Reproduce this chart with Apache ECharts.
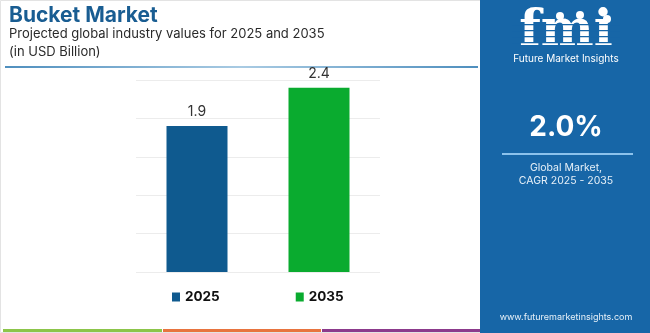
<!DOCTYPE html>
<html>
<head>
<meta charset="utf-8">
<script src="https://cdn.jsdelivr.net/npm/echarts@6/dist/echarts.min.js"></script>
<style>
  html, body { margin: 0; padding: 0; background: #ffffff; }
  #chart { width: 650px; height: 333px; }
</style>
</head>
<body>
<div id="chart"></div>
<script>
// Market size by year, USD billion
const years = ['2025', '2035'];
const values = [1.9, 2.4];
const barColors = ['#0f5a8f', '#0aab2f'];
const cagrText = '2.0%';

const FONT = 'Inter, "Open Sans", sans-serif';
const PANEL = '#1766a7';

const chart = echarts.init(document.getElementById('chart'));

const series = years.map((y, i) => ({
  name: y,
  type: 'bar',
  stack: 'all',
  barWidth: '50%',
  data: years.map((_, j) => (j === i ? values[i] : null)),
  itemStyle: { color: barColors[i] },
  label: {
    show: true,
    position: 'top',
    distance: 7,
    formatter: p => p.value.toFixed(1),
    color: '#333333',
    fontFamily: FONT,
    fontSize: 14
  }
}));

chart.setOption({
  animation: false,
  backgroundColor: '#ffffff',
  grid: { left: 136, right: 270, top: 80, bottom: 61 },
  xAxis: {
    type: 'category',
    data: years,
    axisLine: { show: false },
    axisTick: { show: false },
    axisLabel: { show: false }
  },
  yAxis: {
    type: 'value',
    min: 0,
    max: 2.5,
    interval: 0.5,
    axisLabel: { show: false },
    axisLine: { show: false },
    axisTick: { show: false },
    splitLine: { lineStyle: { color: '#ececec', width: 1 } }
  },
  legend: {
    left: 172,
    top: 290,
    padding: 0,
    itemWidth: 8,
    itemHeight: 9,
    itemGap: 76,
    icon: 'rect',
    textStyle: { fontFamily: FONT, fontSize: 13.5, fontWeight: 'bold', color: '#111111' },
    data: years
  },
  series: series,
  graphic: [
    // outer frame
    { type: 'rect', shape: { x: 0.5, y: 0.5, width: 649, height: 332 }, style: { fill: 'none', stroke: '#e3e3e3', lineWidth: 1 }, silent: true },
    // heading
    { type: 'text', x: 9, y: 16, style: { text: 'Bucket Market', fontFamily: FONT, fontSize: 21, fontWeight: 'bold', fill: '#195d92', verticalAlign: 'middle' } },
    { type: 'text', x: 9, y: 34, style: { text: 'Projected global industry values for 2025 and 2035', fontFamily: FONT, fontSize: 13, fill: '#2a2a2a', verticalAlign: 'middle' } },
    { type: 'text', x: 9, y: 52, style: { text: '(in USD Billion)', fontFamily: FONT, fontSize: 13, fill: '#2a2a2a', verticalAlign: 'middle' } },
    {
      type: 'rect', shape: { x: 5, y: 66, width: 473, height: 2 },
      style: {
        fill: new echarts.graphic.LinearGradient(0, 0, 1, 0, [
          { offset: 0, color: '#4f8fbe' },
          { offset: 0.5, color: '#a9cbe3' },
          { offset: 1, color: '#4f8fbe' }
        ])
      }
    },
    // bottom colour stripes
    { type: 'rect', shape: { x: 3, y: 329, width: 159, height: 3 }, style: { fill: '#8cc54a' } },
    { type: 'rect', shape: { x: 163, y: 329, width: 158, height: 3 }, style: { fill: '#e8743f' } },
    { type: 'rect', shape: { x: 322, y: 329, width: 158, height: 3 }, style: { fill: '#8c3a8c' } },
    // right panel
    { type: 'rect', shape: { x: 480, y: 0, width: 170, height: 333 }, style: { fill: PANEL } },
    { type: 'text', x: 566, y: 32, style: { text: 'fmi', fontFamily: '"DejaVu Serif", serif', fontSize: 50, fontWeight: 'bold', fill: '#ffffff', align: 'center', verticalAlign: 'middle' } },
    { type: 'rect', shape: { x: 512, y: 24, width: 108, height: 1.2 }, style: { fill: PANEL } },
    { type: 'rect', shape: { x: 512, y: 30, width: 108, height: 1.2 }, style: { fill: PANEL } },
    { type: 'rect', shape: { x: 512, y: 36, width: 108, height: 1.2 }, style: { fill: PANEL } },
    { type: 'rect', shape: { x: 512, y: 42, width: 108, height: 1.2 }, style: { fill: PANEL } },
    { type: 'circle', shape: { cx: 560, cy: 16, r: 4 }, style: { fill: '#ffffff' } },
    { type: 'circle', shape: { cx: 580, cy: 15, r: 4 }, style: { fill: '#ffffff' } },
    { type: 'circle', shape: { cx: 607, cy: 19, r: 4 }, style: { fill: '#ffffff' } },
    { type: 'text', x: 566, y: 59, style: { text: 'Future Market Insights', fontFamily: FONT, fontSize: 10, fill: '#ffffff', align: 'center', verticalAlign: 'middle' } },
    { type: 'text', x: 566, y: 128, style: { text: cagrText, fontFamily: FONT, fontSize: 28, fontWeight: 'bold', fill: '#ffffff', align: 'center', verticalAlign: 'middle' } },
    { type: 'rect', shape: { x: 502, y: 153, width: 131, height: 2 }, style: { fill: '#8cc2ec' } },
    { type: 'text', x: 566, y: 168, style: { text: 'Global Market,', fontFamily: FONT, fontSize: 10.5, fill: '#e6f0f8', align: 'center', verticalAlign: 'middle' } },
    { type: 'text', x: 566, y: 181, style: { text: 'CAGR 2025 - 2035', fontFamily: FONT, fontSize: 10.5, fill: '#e6f0f8', align: 'center', verticalAlign: 'middle' } },
    { type: 'text', x: 566, y: 317, style: { text: 'www.futuremarketinsights.com', fontFamily: FONT, fontSize: 9, fill: '#e6f0f8', align: 'center', verticalAlign: 'middle' } }
  ]
});
</script>
</body>
</html>
